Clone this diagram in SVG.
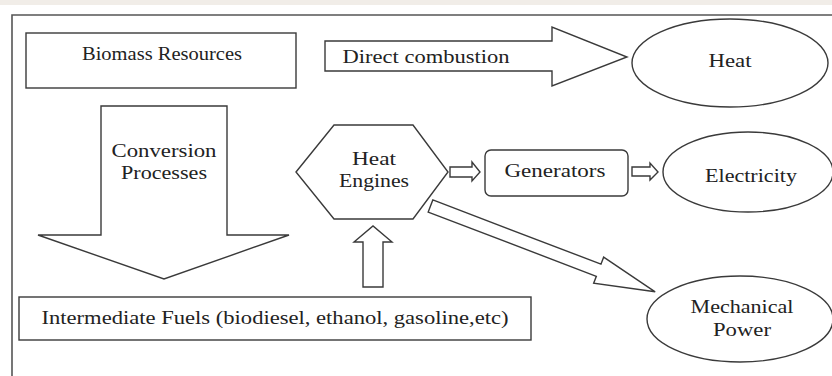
<svg xmlns="http://www.w3.org/2000/svg" width="832" height="376" viewBox="0 0 832 376">
  <style>
    .shape { fill: #ffffff; stroke: #3a3a3a; stroke-width: 1.4; stroke-linejoin: miter; }
    .arrow { fill: #ffffff; stroke: #3a3a3a; stroke-width: 1.4; stroke-linejoin: miter; }
    .lbl { font-family: "Liberation Serif", "Times New Roman", serif; font-size: 19px; fill: #222222; text-anchor: middle; }
  </style>
  <rect x="0" y="0" width="832" height="376" fill="#ffffff"/>
  <rect x="0" y="0" width="832" height="5" fill="#f1ede8"/>
  <!-- outer frame -->
  <path d="M12 376 V15 H832" fill="none" stroke="#555555" stroke-width="1.6"/>

  <g id="connectors">
    <g id="arrow-direct-combustion">
      <polygon class="arrow" points="325,41 552,41 552,27 627,57 552,86 552,71 325,71"/>
      <text class="lbl" x="426" y="63" textLength="167" lengthAdjust="spacingAndGlyphs">Direct combustion</text>
    </g>
    <g id="arrow-conversion">
      <polygon class="arrow" points="101,106 227,106 227,235 289,235 164,279 38,235 101,235"/>
      <text class="lbl" x="164" y="157" textLength="105" lengthAdjust="spacingAndGlyphs">Conversion</text>
      <text class="lbl" x="164" y="179" textLength="86" lengthAdjust="spacingAndGlyphs">Processes</text>
    </g>
    <polygon id="arrow-fuels-engines" class="arrow" points="363,287 363,242 354,242 373,226 392,242 383,242 383,287"/>
    <polygon id="arrow-engines-generators" class="arrow" points="450,167 472,167 472,162 480,172 472,181 472,177 450,177"/>
    <polygon id="arrow-generators-electricity" class="arrow" points="632,167 650,167 650,163 658,172 650,180 650,176 632,176"/>
    <polygon id="arrow-engines-mechanical" class="arrow" transform="translate(430.5,206) rotate(20.9)" points="0,-6.5 180,-6.5 180,-14 240.5,0 180,14 180,6.5 0,6.5"/>
  </g>

  <g id="node-biomass">
    <rect class="shape" x="26" y="33" width="270" height="55"/>
    <text class="lbl" x="162" y="60" textLength="160" lengthAdjust="spacingAndGlyphs">Biomass Resources</text>
  </g>

  <g id="node-heat">
    <ellipse class="shape" cx="730" cy="63" rx="98" ry="44"/>
    <text class="lbl" x="730" y="67" textLength="43" lengthAdjust="spacingAndGlyphs">Heat</text>
  </g>

  <g id="node-heat-engines">
    <polygon class="shape" points="296,172 334,125 413,125 448,172 413,219 334,219"/>
    <text class="lbl" x="374" y="165" textLength="44" lengthAdjust="spacingAndGlyphs">Heat</text>
    <text class="lbl" x="374" y="187" textLength="70" lengthAdjust="spacingAndGlyphs">Engines</text>
  </g>

  <g id="node-generators">
    <rect class="shape" x="485" y="150" width="143" height="46" rx="6" ry="6"/>
    <text class="lbl" x="555" y="177" textLength="101" lengthAdjust="spacingAndGlyphs">Generators</text>
  </g>

  <g id="node-electricity">
    <ellipse class="shape" cx="748" cy="172" rx="85" ry="40"/>
    <text class="lbl" x="751" y="182" textLength="92" lengthAdjust="spacingAndGlyphs">Electricity</text>
  </g>

  <g id="node-mechanical">
    <ellipse class="shape" cx="740" cy="319" rx="93" ry="43"/>
    <text class="lbl" x="742" y="313" textLength="103" lengthAdjust="spacingAndGlyphs">Mechanical</text>
    <text class="lbl" x="742" y="336" textLength="58" lengthAdjust="spacingAndGlyphs">Power</text>
  </g>

  <g id="node-intermediate-fuels">
    <rect class="shape" x="19" y="297" width="512" height="43" stroke-width="2"/>
    <text class="lbl" x="275" y="324" textLength="467" lengthAdjust="spacingAndGlyphs">Intermediate Fuels (biodiesel, ethanol, gasoline,etc)</text>
  </g>
</svg>
